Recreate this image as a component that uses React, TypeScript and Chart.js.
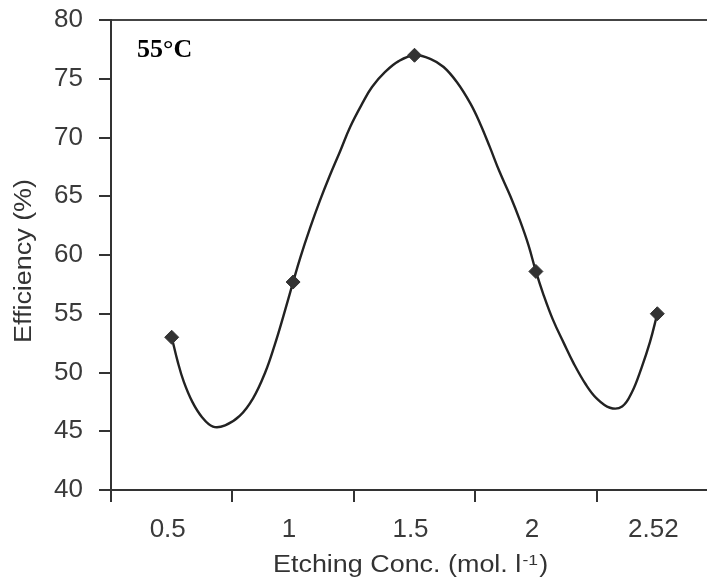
import React, { useEffect, useRef } from 'react';
import { Chart, registerables } from 'chart.js';

Chart.register(...registerables);

// Category labels on the x axis (etching concentration, mol/l)
const categories = ['0.5', '1', '1.5', '2', '2.52'];
// Measured efficiencies (%) shown as diamond markers
const efficiency = [53.0, 57.7, 77.0, 58.6, 55.0];
// Smoothed curve (x = category index, y = efficiency %)
const curveX = [0, 0.05, 0.1, 0.17, 0.25, 0.34, 0.44, 0.56, 0.67, 0.77, 0.85, 0.92, 1, 1.06, 1.14, 1.22, 1.3, 1.39, 1.47, 1.57, 1.65, 1.76, 1.87, 2, 2.13, 2.24, 2.35, 2.46, 2.54, 2.62, 2.7, 2.79, 2.87, 2.94, 3, 3.06, 3.14, 3.23, 3.31, 3.41, 3.5, 3.61, 3.71, 3.79, 3.87, 3.94, 4];
const curveY = [53.0, 50.9, 49.2, 47.5, 46.2, 45.4, 45.5, 46.3, 47.8, 50.0, 52.4, 54.8, 57.7, 59.8, 62.3, 64.6, 66.7, 68.9, 70.9, 72.9, 74.3, 75.6, 76.5, 77.0, 76.7, 76.0, 74.7, 72.9, 71.2, 69.2, 67.1, 65.0, 62.9, 60.8, 58.6, 56.7, 54.5, 52.5, 50.8, 49.0, 47.8, 47.0, 47.1, 48.3, 50.4, 52.6, 55.0];
// Y axis range
const yMin = 40;
const yMax = 80;
const yStep = 5;

const yTitle = 'Efficiency (%)';
const xTitleMain = 'Etching Conc. (mol. l';
const xTitleSup = '-1';
const xTitleEnd = ')';
const annotation = '55°C';

export default function App() {
  const ref = useRef<HTMLCanvasElement>(null);

  useEffect(() => {
    const canvas = ref.current;
    if (!canvas) return;

    const textPlugin = {
      id: 'textPlugin',
      afterDraw(chart: any) {
        const ctx = chart.ctx as CanvasRenderingContext2D;
        const area = chart.chartArea;
        const sans = '"Liberation Sans", Arial, sans-serif';
        // Y title
        ctx.save();
        ctx.fillStyle = '#333';
        ctx.font = `23px ${sans}`;
        ctx.translate(25, (area.top + area.bottom) / 2 + 6);
        ctx.rotate(-Math.PI / 2);
        ctx.scale(1.17, 1);
        ctx.textAlign = 'center';
        ctx.textBaseline = 'middle';
        ctx.fillText(yTitle, 0, 0);
        ctx.restore();

        // X title with superscript
        ctx.save();
        ctx.fillStyle = '#333';
        ctx.translate(273, 572);
        ctx.scale(1.17, 1);
        ctx.textAlign = 'left';
        ctx.textBaseline = 'alphabetic';
        ctx.font = `23px ${sans}`;
        ctx.fillText(xTitleMain, 0, 0);
        let w = ctx.measureText(xTitleMain).width + 1;
        ctx.font = `15px ${sans}`;
        ctx.fillText(xTitleSup, w, -7);
        w += ctx.measureText(xTitleSup).width + 1;
        ctx.font = `23px ${sans}`;
        ctx.fillText(xTitleEnd, w, 0);
        ctx.restore();

        // Annotation
        ctx.save();
        ctx.fillStyle = '#000';
        ctx.font = 'bold 26px "Liberation Serif", "Times New Roman", serif';
        ctx.textAlign = 'left';
        ctx.textBaseline = 'alphabetic';
        ctx.fillText(annotation, 137, 57);
        ctx.restore();
      },
    };

    const tickFont = { family: '"Liberation Sans", Arial, sans-serif', size: 26 };

    const chart = new Chart(canvas, {
      type: 'line',
      data: {
        labels: categories,
        datasets: [
          {
            label: 'Efficiency',
            data: efficiency,
            xAxisID: 'x',
            yAxisID: 'y',
            showLine: false,
            pointStyle: 'rectRot',
            pointRadius: 7,
            pointBackgroundColor: '#333',
            pointBorderColor: '#333',
            pointBorderWidth: 1,
          },
          {
            label: 'Curve',
            data: curveX.map((x, i) => ({ x, y: curveY[i] })),
            xAxisID: 'xl',
            yAxisID: 'y',
            borderColor: '#222',
            borderWidth: 2.4,
            pointRadius: 0,
            fill: false,
            tension: 0.4,
          },
        ],
      },
      options: {
        animation: false,
        responsive: false,
        events: [],
        layout: { padding: { left: 0, top: 20, right: 22, bottom: 0 } },
        plugins: {
          legend: { display: false },
          tooltip: { enabled: false },
          title: { display: false },
        },
        scales: {
          x: {
            type: 'category',
            labels: categories,
            offset: true,
            position: 'bottom',
            grid: {
              offset: true,
              drawOnChartArea: false,
              drawTicks: true,
              tickLength: 12,
              lineWidth: 2,
              color: '#333',
              tickColor: '#333',
            },
            border: { display: true, color: '#333', width: 2 },
            ticks: {
              font: tickFont,
              color: '#3a3a3a',
              padding: 12,
              labelOffset: -4,
              maxRotation: 0,
              autoSkip: false,
            },
            afterFit: (s: any) => {
              s.height = 87;
              s.paddingLeft = 0;
              s.paddingRight = 0;
            },
          },
          xl: {
            type: 'linear',
            display: false,
            min: -0.5,
            max: 4.5,
          },
          y: {
            type: 'linear',
            min: yMin,
            max: yMax,
            position: 'left',
            ticks: {
              stepSize: yStep,
              font: tickFont,
              color: '#3a3a3a',
              padding: 16,
            },
            grid: {
              drawOnChartArea: true,
              drawTicks: true,
              tickLength: 12,
              lineWidth: 2,
              color: (c: any) => (c.tick && c.tick.value === yMax ? '#444' : 'rgba(0,0,0,0)'),
              tickColor: '#333',
            },
            border: { display: true, color: '#333', width: 2 },
            afterFit: (s: any) => {
              s.width = 111;
              s.paddingTop = 0;
              s.paddingBottom = 0;
            },
          },
        },
      },
      plugins: [textPlugin],
    } as any);

    return () => chart.destroy();
  }, []);

  return (
    <div
      style={{
        position: 'fixed',
        left: 0,
        top: 0,
        width: 707,
        height: 577,
        overflow: 'hidden',
        background: '#fff',
      }}
    >
      <canvas ref={ref} width={740} height={577} style={{ display: 'block', width: 740, height: 577 }} />
    </div>
  );
}
